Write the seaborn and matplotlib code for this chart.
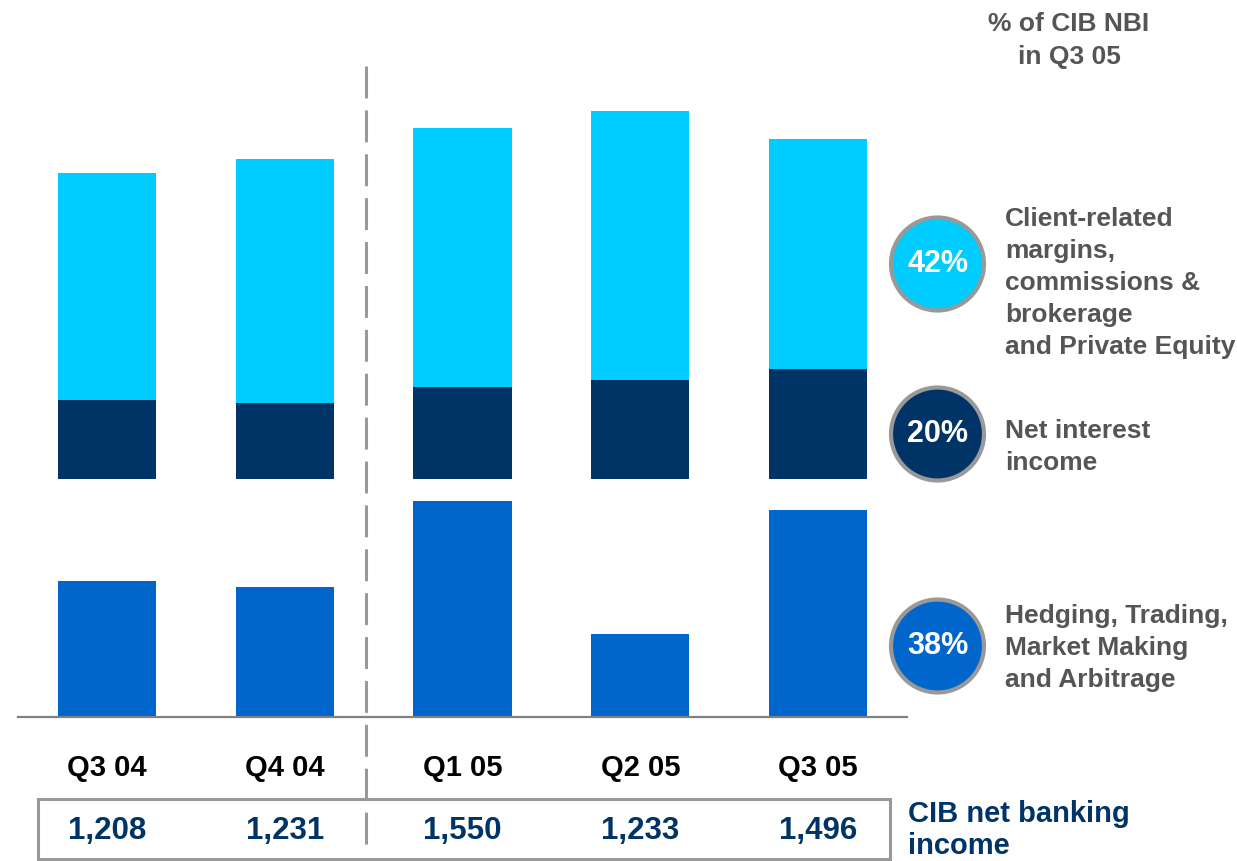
import matplotlib
matplotlib.use("Agg")
import matplotlib.pyplot as plt
import matplotlib.transforms as mtransforms
from matplotlib.patches import Ellipse, Rectangle
from matplotlib.lines import Line2D
import seaborn as sns
import pandas as pd

# Quarterly CIB net banking income (EUR m) and its breakdown
quarters = ["Q3 04", "Q4 04", "Q1 05", "Q2 05", "Q3 05"]
hedging_trading = [372, 355, 591, 228, 566]
net_interest = [216, 208, 252, 270, 300]
client_related = [620, 668, 707, 735, 630]
cib_nbi = [1208, 1231, 1550, 1233, 1496]
nbi_labels = ["1,208", "1,231", "1,550", "1,233", "1,496"]

share_labels = ["42%", "20%", "38%"]
share_texts = [
    "Client-related\nmargins,\ncommissions &\nbrokerage\nand Private Equity",
    "Net interest\nincome",
    "Hedging, Trading,\nMarket Making\nand Arbitrage",
]

LIGHT = "#00CCFF"
NAVY = "#003366"
MID = "#0066CC"
GREY_TXT = "#555555"
GREY_LINE = "#999999"

sns.set_style("white")
plt.rcParams["font.family"] = ["Liberation Sans", "DejaVu Sans"]
plt.rcParams["lines.scale_dashes"] = False

W, H = 1237, 861
fig = plt.figure(figsize=(W / 100, H / 100), dpi=100)


def fx(x):
    return x / W


def fy(y):
    return 1 - y / H


PX_PER_UNIT = 0.3657
X0, X1 = 18, 907
BAR_W = 0.553

df = pd.DataFrame({
    "quarter": quarters,
    "hedging": hedging_trading,
    "nii": net_interest,
    "client": client_related,
})
df["upper_total"] = df["nii"] + df["client"]

bar_kw = dict(width=BAR_W, saturation=1, linewidth=0, edgecolor="none")

# Upper panel: net interest income with client-related revenues stacked on top
top_y, bot_y = 100, 479
ax_up = fig.add_axes([fx(X0), fy(bot_y), fx(X1) - fx(X0), (bot_y - top_y) / H])
sns.barplot(data=df, x="quarter", y="upper_total", color=LIGHT, ax=ax_up, **bar_kw)
sns.barplot(data=df, x="quarter", y="nii", color=NAVY, ax=ax_up, **bar_kw)
ax_up.set_xlim(-0.5, 4.5)
ax_up.set_ylim(0, (bot_y - top_y) / PX_PER_UNIT)
ax_up.axis("off")
ax_up.patch.set_visible(False)

# Lower panel: hedging, trading, market making and arbitrage
top_y2, bot_y2 = 490, 717
ax_lo = fig.add_axes([fx(X0), fy(bot_y2), fx(X1) - fx(X0), (bot_y2 - top_y2) / H])
sns.barplot(data=df, x="quarter", y="hedging", color=MID, ax=ax_lo, **bar_kw)
ax_lo.set_xlim(-0.5, 4.5)
ax_lo.set_ylim(0, (bot_y2 - top_y2) / PX_PER_UNIT)
ax_lo.set_xlabel("")
ax_lo.set_ylabel("")
ax_lo.set_yticks([])
ax_lo.patch.set_visible(False)
for side in ["top", "left", "right"]:
    ax_lo.spines[side].set_visible(False)
ax_lo.spines["bottom"].set_color("#808080")
ax_lo.spines["bottom"].set_linewidth(1.6)
ax_lo.tick_params(axis="x", length=0, pad=27, labelsize=21, labelcolor="black")
for lab in ax_lo.get_xticklabels():
    lab.set_fontweight("bold")

# NBI table row
fig.add_artist(Rectangle((fx(38), fy(859)), fx(890) - fx(38), (859 - 799) / H,
                         fill=False, edgecolor=GREY_LINE, linewidth=2.2,
                         transform=fig.transFigure))
row_tr = mtransforms.blended_transform_factory(ax_lo.transData, fig.transFigure)
for i, lab in enumerate(nbi_labels):
    ax_lo.text(i, fy(831), lab, transform=row_tr, ha="center", va="center",
               fontsize=22.5, fontweight="bold", color=NAVY, clip_on=False)
fig.text(fx(908), fy(800), "CIB net banking\nincome", ha="left", va="top",
         fontsize=21, fontweight="bold", color=NAVY, linespacing=1.2)

# Divider between 2004 and 2005 quarters
fig.add_artist(Line2D([fx(366), fx(366)], [fy(66), fy(846)],
                      transform=fig.transFigure, color=GREY_LINE,
                      linewidth=2.2, linestyle=(0, (23, 8.6))))

# Share of CIB NBI in Q3 05
fig.text(fx(1069), fy(12), "% of CIB NBI\nin Q3 05", ha="center", va="top",
         fontsize=19, fontweight="bold", color=GREY_TXT, linespacing=1.45)

circle_colors = [LIGHT, NAVY, MID]
circle_y = [264, 434, 646]
text_top = [217, 429, 614]
r = 46.5
for lab, txt, col, cy, ty in zip(share_labels, share_texts, circle_colors,
                                 circle_y, text_top):
    fig.add_artist(Ellipse((fx(937.5), fy(cy)), 2 * r / W, 2 * r / H,
                           facecolor=col, edgecolor=GREY_LINE, linewidth=3.0,
                           transform=fig.transFigure))
    fig.text(fx(938), fy(cy), lab, ha="center", va="center", fontsize=22,
             fontweight="bold", color="white")
    fig.text(fx(1005), fy(ty - 10), txt, ha="left", va="top", fontsize=19,
             fontweight="bold", color=GREY_TXT, linespacing=1.42)

fig.savefig("out.png", dpi=100)
